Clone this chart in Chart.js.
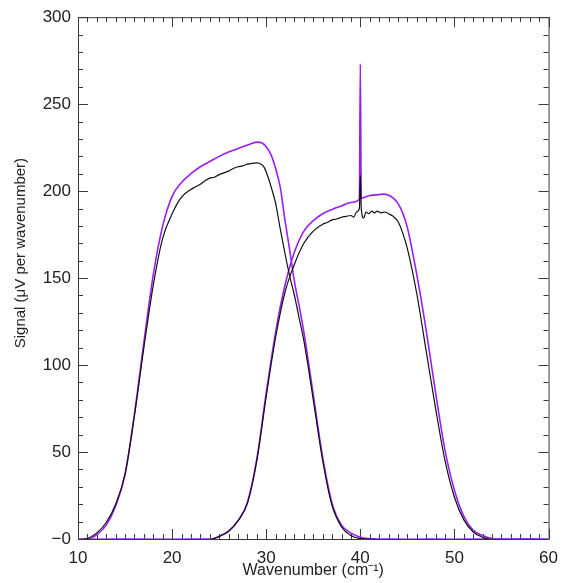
<!DOCTYPE html>
<html>
<head>
<meta charset="utf-8">
<script src="https://cdn.jsdelivr.net/npm/chart.js@4.4.1/dist/chart.umd.min.js"></script>
<style>
  html, body { margin: 0; padding: 0; background: #fff; }
</style>
</head>
<body>
<canvas id="signalPlot" width="567" height="583"></canvas>
<script>
// wavenumber (cm^-1) and signal values
const wnPurpleA = [10, 11, 12, 13, 14, 15, 16, 17, 18, 19, 20, 21, 22, 23, 24, 25, 26, 27, 28, 29, 29.5, 30, 30.5, 31, 31.5, 32, 32.5, 33, 33.5, 34, 35, 36, 37, 38, 39, 40, 42, 45, 50, 55, 60];
const sigPurpleA = [-0.2, -0.1, 2.5, 8, 19, 37, 72, 113, 152, 180, 197, 205, 210, 214, 217, 220, 222.5, 224.5, 226.5, 228.2, 227.8, 225.5, 221, 213, 202, 183, 166, 148, 134, 119, 83, 47, 20.5, 8, 3.5, 1, -0.1, -0.2, -0.2, -0.2, -0.2];

const wnBlackA = [10, 11, 12, 13, 14, 15, 16, 17, 18, 19, 20, 21, 22, 22.5, 23, 23.5, 24, 24.5, 25, 25.5, 26, 26.5, 27, 27.5, 28, 28.5, 29, 29.5, 29.8, 30.2, 30.6, 31, 31.5, 32, 32.5, 33, 33.5, 34, 35, 36, 37, 38, 39, 40, 42, 45, 50, 55, 60];
const sigBlackA = [-0.6, 0.3, 3.5, 9.5, 20, 37.5, 71, 110, 146, 173, 187, 196.5, 201, 202.5, 204, 206, 207.5, 208, 209.5, 210.5, 211.5, 213, 214, 214.5, 215.5, 216, 216.2, 215.3, 213.5, 208, 201, 193, 178, 164, 151, 140, 127, 114, 80, 45, 19, 7, 2, 0.2, -0.3, -0.5, -0.7, -0.4, -0.6];

const wnPurpleB = [10, 20, 24, 25, 26, 27, 28, 29, 30, 31, 32, 33, 34, 35, 36, 37, 38, 39, 39.9, 40, 40.1, 41, 42, 42.5, 43, 43.5, 44, 44.5, 45, 46, 47, 48, 49, 50, 51, 52, 53, 54, 56, 60];
const sigPurpleB = [-0.2, -0.2, -0.1, 1.5, 4.5, 10.5, 21, 46, 84, 119, 146, 165, 177, 183, 187, 189.5, 191.5, 193.5, 195.3, 273, 196, 197.5, 198, 198.3, 197.6, 196, 193, 187.5, 179, 152, 120, 84, 51, 28, 13, 5, 2, 0.3, -0.2, -0.2];

const wnBlackB = [10, 20, 24, 25, 26, 27, 28, 29, 30, 31, 32, 33, 34, 35, 36, 36.5, 37, 37.5, 38, 38.5, 39, 39.3, 39.6, 39.9, 40, 40.1, 40.35, 40.6, 40.9, 41.2, 41.5, 41.8, 42.2, 42.6, 43, 43.5, 44, 44.5, 45, 46, 47, 48, 49, 50, 51, 52, 53, 54, 56, 60];
const sigBlackB = [-0.6, -0.5, -0.3, 1.5, 4.5, 10.5, 20.5, 45, 82, 116, 142, 158, 170, 177, 181, 182, 183.5, 184, 185, 185.5, 186, 185, 188, 190, 209, 190, 184.5, 188, 187, 188.5, 187.5, 188.5, 187.5, 188, 187, 185.5, 182.5, 176, 167, 141, 108, 75, 45, 24, 11, 4, 1, -0.3, -0.6, -0.7];

const xTicks = [10, 20, 30, 40, 50, 60];
const yTicks = [0, 50, 100, 150, 200, 250, 300];

const PURPLE = "#9a1ef0";
const FONT = "'Liberation Sans', Arial, sans-serif";

function toPoints(xs, ys) {
    return xs.map((x, i) => ({ x: x, y: ys[i] }));
}

// box round the plot with inward ticks on all four sides
const frameTicks = {
    id: "frameTicks",
    beforeDatasetsDraw(chart) {
        const { ctx, chartArea: a, scales } = chart;
        const sx = scales.x;
        const sy = scales.y;
        ctx.save();
        ctx.strokeStyle = "#3a3a3a";
        ctx.lineWidth = 1;
        ctx.strokeRect(a.left + 0.5, a.top + 0.5, a.right - a.left, a.bottom - a.top);
        ctx.beginPath();
        for (let v = xTicks[0]; v <= xTicks[xTicks.length - 1]; v += 1) {
            const px = Math.round(sx.getPixelForValue(v)) + 0.5;
            const len = v % 10 === 0 ? 10 : 5;
            ctx.moveTo(px, a.bottom);
            ctx.lineTo(px, a.bottom - len);
            ctx.moveTo(px, a.top);
            ctx.lineTo(px, a.top + len);
        }
        for (let v = yTicks[0]; v <= yTicks[yTicks.length - 1]; v += 10) {
            const py = Math.round(sy.getPixelForValue(v)) + 0.5;
            const len = v % 50 === 0 ? 10 : 5;
            ctx.moveTo(a.left, py);
            ctx.lineTo(a.left + len, py);
            ctx.moveTo(a.right, py);
            ctx.lineTo(a.right - len, py);
        }
        ctx.stroke();
        ctx.restore();
    },
};

const line = (data, color, width) => ({
    data: data,
    borderColor: color,
    borderWidth: width,
    pointRadius: 0,
    showLine: true,
    fill: false,
    cubicInterpolationMode: "monotone",
});

new Chart(document.getElementById("signalPlot"), {
    type: "scatter",
    data: {
        datasets: [
            line(toPoints(wnBlackA, sigBlackA), "#111", 1.2),
            line(toPoints(wnBlackB, sigBlackB), "#111", 1.2),
            line(toPoints(wnPurpleA, sigPurpleA), PURPLE, 1.6),
            line(toPoints(wnPurpleB, sigPurpleB), PURPLE, 1.6),
        ],
    },
    options: {
        responsive: false,
        animation: false,
        layout: { padding: { top: 15, right: 15, left: 0, bottom: 0 } },
        plugins: { legend: { display: false }, tooltip: { enabled: false } },
        scales: {
            x: {
                type: "linear",
                min: 10,
                max: 60,
                afterBuildTicks: (s) => { s.ticks = xTicks.map((v) => ({ value: v })); },
                afterFit: (s) => { s.height = 44; },
                grid: { display: false, drawTicks: false },
                border: { display: false },
                ticks: { color: "#222", padding: 9, maxRotation: 0, font: { family: FONT, size: 17 } },
                title: {
                    display: true,
                    text: "Wavenumber (cm⁻¹)",
                    color: "#222",
                    padding: { top: 0, bottom: 3 },
                    font: { family: FONT, size: 16 },
                },
            },
            y: {
                min: 0,
                max: 300,
                afterBuildTicks: (s) => { s.ticks = yTicks.map((v) => ({ value: v })); },
                afterFit: (s) => { s.width = 78; },
                grid: { display: false, drawTicks: false },
                border: { display: false },
                ticks: {
                    color: "#222",
                    padding: 7,
                    font: { family: FONT, size: 17 },
                    callback: (v) => (v === 0 ? "−0" : String(v)),
                },
                title: {
                    display: true,
                    text: "            Signal (μV per wavenumber)",
                    color: "#222",
                    padding: { top: 12, bottom: 0 },
                    font: { family: FONT, size: 15 },
                },
            },
        },
    },
    plugins: [frameTicks],
});
</script>
</body>
</html>
